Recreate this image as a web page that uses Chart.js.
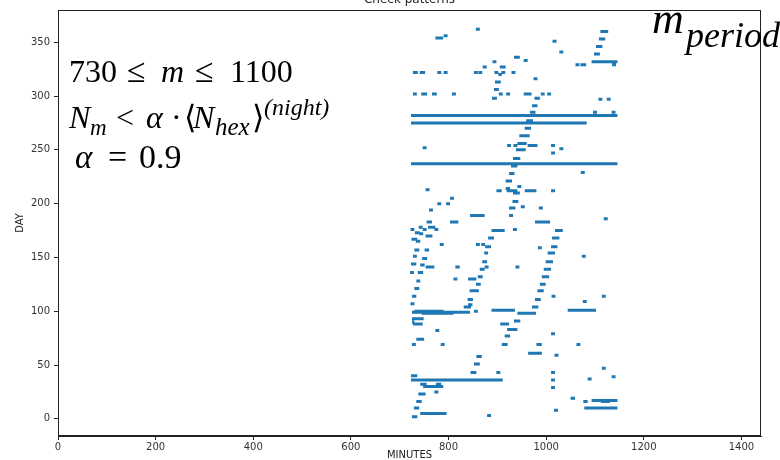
<!DOCTYPE html>
<html>
<head>
<meta charset="utf-8">
<script src="https://cdn.jsdelivr.net/npm/chart.js@4.4.0/dist/chart.umd.min.js"></script>
<style>
  html, body { margin: 0; padding: 0; background: #fff; }
  #wrap { width: 780px; height: 460px; }
</style>
</head>
<body>
<div id="wrap"><canvas id="myChart" width="780" height="460"></canvas></div>
<script>
// each mark is one row: day, first minute, last minute
var segDay = [
  362, 354, 356, 360, 353, 351, 346, 341, 339, 336, 333,
  332, 332, 329, 329, 329, 327, 327,
  322, 322, 322, 322, 322, 322, 322, 322, 322,
  320, 316, 313, 306,
  302, 302, 302, 302, 302, 302, 302, 302, 302,
  298, 298, 297, 297, 291, 285, 285, 285,
  282, 277, 275, 270, 263, 256, 254, 254, 254, 254, 252, 251, 250, 247, 242,
  237, 235, 229, 228, 221, 216, 214, 213, 212, 212, 212, 212, 210,
  205, 202, 200, 200, 197, 196, 196, 194, 189, 189, 186,
  183, 183, 183, 178, 178, 176, 176, 176, 176, 175, 175,
  173, 172, 170, 167, 168, 168, 165, 162, 162, 162, 160, 160, 159,
  157, 157, 154, 154, 151, 151, 149, 146, 146, 144, 143,
  141, 141, 141, 141, 139, 139, 136, 136, 132, 132, 130, 130, 128,
  125, 125, 121, 119, 119, 114, 114, 114, 111, 111, 109, 107, 106,
  104, 104, 101, 101, 100, 100, 99, 98, 98, 93, 91, 90, 88, 88,
  83, 82, 79, 77, 74, 69, 69, 69, 69, 69, 61, 59, 58, 51, 47,
  43, 43, 43, 40, 39, 37, 36, 36, 32, 32, 30, 29, 25, 23,
  19, 17, 16, 16, 16, 10, 10, 8, 5, 3, 2
];
var segStart = [
  856, 773, 790, 1111, 1108, 1013, 1102, 1027, 1098, 934, 954,
  890, 1093, 1060, 1070, 1135, 870, 905,
  727, 741, 777, 790, 852, 861, 894, 908, 929,
  902, 974, 895, 893,
  727, 744, 766, 807, 903, 918, 954, 989, 1002,
  889, 976, 1107, 1124, 971, 967, 1096, 1134,
  723, 959, 723, 956, 945, 941, 920, 933, 962, 1010, 747, 1027, 938, 1010, 932,
  723, 928, 1071, 924, 917, 941, 917, 753, 898, 919, 956, 1010, 932,
  803, 931, 777, 795, 948, 924, 985, 760, 844, 924, 1118,
  755, 803, 977, 739, 758, 722, 747, 771, 932, 888, 1018,
  731, 740, 753, 724, 881, 1012, 733, 782, 856, 867, 875, 1010, 983,
  730, 751, 873, 1003, 727, 1073, 746, 869, 999, 723, 742,
  753, 814, 874, 937, 864, 995, 721, 737, 860, 991, 810, 840, 734,
  856, 987, 730, 843, 982, 725, 1114, 1011, 839, 977, 1075, 722, 840,
  831, 971, 888, 1044, 852, 730, 725, 941, 745, 725, 934, 725, 906, 727,
  920, 773, 1010, 915, 734, 725, 784, 909, 980, 1062, 963, 1017, 857, 852, 1114,
  845, 898, 1010, 723, 1134, 1085, 723, 1010, 742, 774, 748, 1010, 771, 738,
  1050, 1093, 734, 1076, 1112, 729, 1078, 1016, 742, 879, 725
];
var segEnd = [
  864, 789, 798, 1127, 1121, 1021, 1115, 1035, 1110, 946, 962,
  898, 1146, 1068, 1082, 1143, 878, 917,
  737, 752, 785, 798, 860, 869, 902, 916, 937,
  909, 982, 907, 903,
  735, 756, 776, 815, 911, 926, 970, 997, 1010,
  899, 987, 1115, 1132, 982, 978, 1104, 1142,
  1146, 973, 1083, 969, 966, 960, 928, 941, 982, 1018, 755, 1035, 958, 1018, 947,
  1146, 941, 1079, 935, 930, 949, 926, 761, 909, 941, 980, 1018, 946,
  811, 943, 785, 803, 956, 937, 993, 768, 874, 932, 1126,
  766, 820, 1008, 747, 773, 730, 755, 779, 940, 915, 1034,
  741, 748, 767, 736, 893, 1027, 742, 790, 864, 875, 887, 1023, 991,
  740, 760, 881, 1018, 735, 1081, 756, 879, 1014, 734, 751,
  771, 823, 882, 945, 874, 1010, 729, 748, 870, 1006, 818, 857, 742,
  866, 999, 740, 862, 995, 734, 1122, 1019, 850, 989, 1083, 730, 849,
  846, 984, 936, 1102, 860, 790, 844, 979, 810, 749, 947, 730, 924, 747,
  941, 781, 1018, 926, 750, 733, 792, 921, 991, 1070, 991, 1025, 868, 864, 1122,
  857, 906, 1018, 736, 1142, 1093, 911, 1018, 755, 785, 789, 1018, 779, 753,
  1059, 1146, 745, 1085, 1130, 740, 1146, 1024, 796, 887, 736
];

var xTicks = [0, 200, 400, 600, 800, 1000, 1200, 1400];
var yTicks = [0, 50, 100, 150, 200, 250, 300, 350];

var points = [];
for (var i = 0; i < segDay.length; i++) {
  points.push({x: segStart[i], y: segDay[i]});
  points.push({x: segEnd[i], y: segDay[i]});
  points.push({x: null, y: null});
}

// runs of math text, each placed at its own x
function drawRuns(ctx, y, runs) {
  runs.forEach(function (r) {
    ctx.font = (r.it ? 'italic ' : '') + r.size + 'px "Liberation Serif"';
    ctx.fillText(r.t, r.x, y + (r.dy || 0));
  });
}

var extras = {
  id: 'extras',
  afterDraw: function (chart) {
    var ctx = chart.ctx, a = chart.chartArea;
    ctx.save();
    ctx.strokeStyle = '#222';
    ctx.lineWidth = 1;
    ctx.strokeRect(a.left + 0.5, a.top + 0.5, a.right - a.left - 1, a.bottom - a.top - 1);

    ctx.fillStyle = '#222';
    ctx.textBaseline = 'alphabetic';
    ctx.textAlign = 'center';
    ctx.font = '12px "DejaVu Sans"';
    ctx.fillText('Check patterns', (a.left + a.right) / 2, 3);
    ctx.font = '10px "DejaVu Sans"';
    ctx.fillText('MINUTES', (a.left + a.right) / 2, 458);
    ctx.save();
    ctx.translate(23, (a.top + a.bottom) / 2);
    ctx.rotate(-Math.PI / 2);
    ctx.fillText('DAY', 0, 0);
    ctx.restore();

    ctx.textAlign = 'left';
    ctx.fillStyle = '#000';
    drawRuns(ctx, 82, [
      {t: '730', x: 69, size: 32}, {t: '\u2264', x: 127, size: 34},
      {t: 'm', x: 161, it: true, size: 32}, {t: '\u2264', x: 195, size: 34},
      {t: '1100', x: 230, size: 32}
    ]);
    drawRuns(ctx, 128, [
      {t: 'N', x: 69, it: true, size: 32}, {t: 'm', x: 90, it: true, size: 23, dy: 7},
      {t: '<', x: 116, size: 32}, {t: '\u03b1', x: 146, it: true, size: 32},
      {t: '\u00b7', x: 171, size: 32}, {t: '\u27e8', x: 184, size: 32},
      {t: 'N', x: 193, it: true, size: 32}, {t: 'hex', x: 215, it: true, size: 25, dy: 7},
      {t: '\u27e9', x: 252, size: 32}, {t: '(night)', x: 264, it: true, size: 24, dy: -13}
    ]);
    drawRuns(ctx, 168, [
      {t: '\u03b1', x: 75, it: true, size: 33}, {t: '=', x: 108, size: 34},
      {t: '0.9', x: 139, size: 34}
    ]);
    drawRuns(ctx, 33, [
      {t: 'm', x: 652, it: true, size: 44}, {t: 'period', x: 686, it: true, size: 36, dy: 14}
    ]);
    ctx.restore();
  }
};

var ctx = document.getElementById('myChart').getContext('2d');
var chart = new Chart(ctx, {
  type: 'scatter',
  data: {
    datasets: [{
      data: points,
      showLine: true,
      spanGaps: false,
      borderColor: '#1f77b4',
      borderWidth: 3,
      borderCapStyle: 'butt',
      pointRadius: 0,
      pointHoverRadius: 0
    }]
  },
  options: {
    responsive: false,
    animation: false,
    layout: { padding: { left: 0, right: 19, top: 8, bottom: 0 } },
    plugins: { legend: { display: false }, tooltip: { enabled: false } },
    scales: {
      x: {
        type: 'linear',
        min: 0,
        max: 1440,
        afterBuildTicks: function (s) { s.ticks = xTicks.map(function (v) { return {value: v}; }); },
        afterFit: function (s) { s.height = 24; },
        grid: { drawOnChartArea: false, drawTicks: true, tickLength: 4, color: '#222' },
        border: { color: '#222' },
        ticks: {
          font: { family: 'DejaVu Sans', size: 10 }, color: '#333', padding: 1, maxRotation: 0,
          callback: function (v) { return String(v); }
        }
      },
      y: {
        type: 'linear',
        min: -16,
        max: 380,
        afterBuildTicks: function (s) { s.ticks = yTicks.map(function (v) { return {value: v}; }); },
        afterFit: function (s) { s.width = 58; },
        grid: { drawOnChartArea: false, drawTicks: true, tickLength: 4, color: '#222' },
        border: { color: '#222' },
        ticks: {
          font: { family: 'DejaVu Sans', size: 10 }, color: '#333', padding: 4,
          callback: function (v) { return String(v); }
        }
      }
    }
  },
  plugins: [extras]
});
</script>
</body>
</html>
